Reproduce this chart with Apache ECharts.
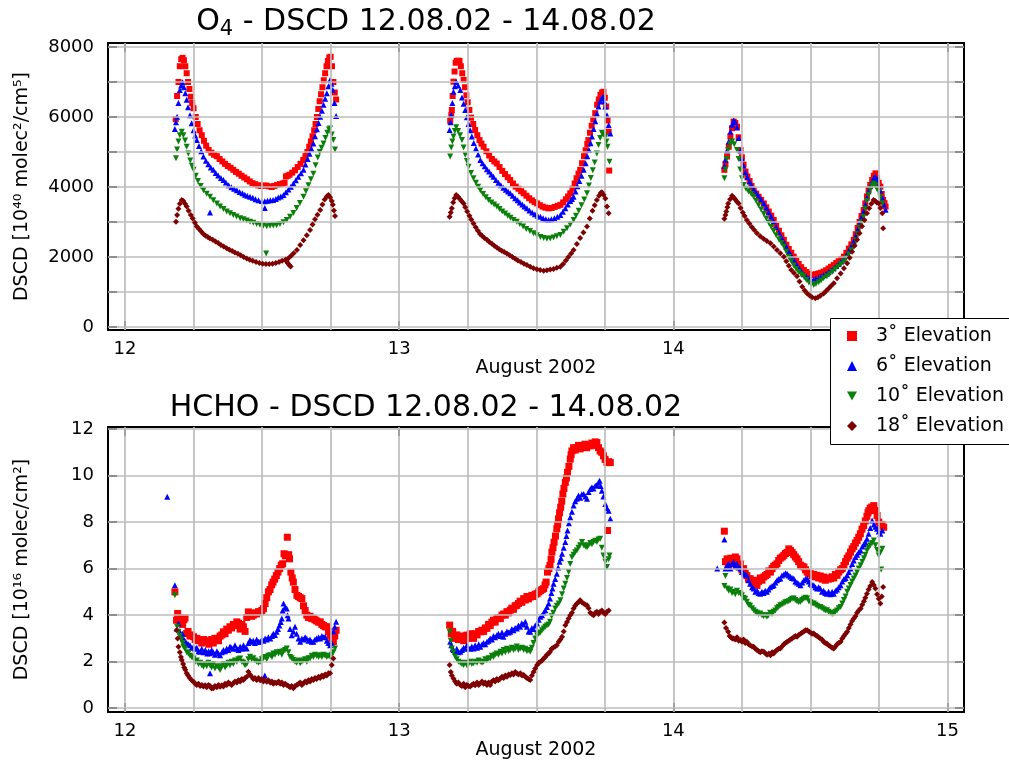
<!DOCTYPE html>
<html>
<head>
<meta charset="utf-8">
<script src="https://cdn.jsdelivr.net/npm/echarts@6.0.0/dist/echarts.min.js"></script>
<style>html,body{margin:0;padding:0;background:#fff;}#chart{width:1009px;height:761px;}</style>
</head>
<body>
<div id="chart"></div>
<script>
// ---------- DATA ----------
const seriesNames = ['3˚ Elevation', '6˚ Elevation', '10˚ Elevation', '18˚ Elevation'];
const dayTicks = [12, 13, 14, 15];
const dayGrid = [12, 12.25, 12.5, 12.75, 13, 13.25, 13.5, 13.75, 14, 14.25, 14.5, 14.75, 15];
const o4Ticks = [0, 1000, 2000, 3000, 4000, 5000, 6000, 7000, 8000];
const o4Labels = [0, 2000, 4000, 6000, 8000];
const hchoTicks = [0, 2, 4, 6, 8, 10, 12];
const titleTopParts = ['O', '4', ' - DSCD 12.08.02 - 14.08.02'];
const titleBottom = 'HCHO - DSCD 12.08.02 - 14.08.02';
const yNameTop = 'DSCD [10⁴⁰ molec²/cm⁵]';
const yNameBottom = 'DSCD [10¹⁶ molec/cm²]';
const xName = 'August 2002';

// O4 DSCD, 3 deg
const o4_3deg = [
[12.185,5940],[12.19,6600],[12.195,7000],[12.2,7450],[12.205,7650],[12.21,7690],[12.215,7620],[12.22,7450],[12.225,7250],[12.23,7000],[12.235,6800],[12.24,6580],[12.245,6400],[12.25,6250],[12.258,6000],[12.265,5800],[12.272,5620],[12.28,5480],[12.288,5320],[12.296,5180],[12.305,5060],[12.315,4980],[12.325,4920],[12.335,4880],[12.345,4800],[12.355,4730],[12.365,4660],[12.375,4600],[12.385,4550],[12.395,4490],[12.405,4430],[12.415,4380],[12.425,4320],[12.435,4270],[12.445,4220],[12.455,4160],[12.465,4110],[12.475,4080],[12.485,4050],[12.495,4030],[12.505,4040],[12.515,4040],[12.525,4020],[12.535,4000],[12.545,4030],[12.555,4060],[12.565,4080],[12.575,4100],[12.582,4120],[12.587,4300],[12.593,4320],[12.6,4350],[12.61,4410],[12.62,4480],[12.63,4570],[12.64,4660],[12.65,4770],[12.658,4880],[12.665,5000],[12.672,5150],[12.678,5300],[12.684,5450],[12.69,5620],[12.695,5800],[12.7,6000],[12.705,6230],[12.71,6450],[12.715,6650],[12.72,6850],[12.725,7050],[12.73,7250],[12.735,7450],[12.74,7600],[12.745,7700],[12.75,7720],[12.755,7450],[12.76,7000],[12.765,6700],[12.77,6500],
[13.186,5890],[13.19,6050],[13.192,6200],[13.195,6600],[13.198,7010],[13.202,7300],[13.206,7550],[13.21,7600],[13.215,7610],[13.22,7600],[13.225,7450],[13.23,7250],[13.235,7060],[13.24,6850],[13.245,6620],[13.25,6420],[13.256,6200],[13.262,5980],[13.27,5800],[13.277,5630],[13.285,5480],[13.293,5340],[13.3,5240],[13.308,5150],[13.318,5020],[13.328,4900],[13.338,4800],[13.347,4730],[13.356,4670],[13.366,4570],[13.376,4460],[13.386,4370],[13.396,4280],[13.405,4200],[13.415,4100],[13.425,4010],[13.435,3950],[13.445,3880],[13.454,3820],[13.464,3750],[13.474,3680],[13.484,3620],[13.494,3570],[13.503,3530],[13.513,3480],[13.523,3440],[13.533,3410],[13.545,3390],[13.556,3400],[13.567,3430],[13.578,3460],[13.588,3490],[13.598,3560],[13.608,3650],[13.616,3730],[13.624,3820],[13.632,3950],[13.64,4100],[13.647,4250],[13.654,4380],[13.66,4490],[13.667,4680],[13.674,4880],[13.68,5050],[13.686,5230],[13.69,5340],[13.696,5550],[13.702,5750],[13.708,5930],[13.715,6110],[13.722,6350],[13.728,6500],[13.734,6630],[13.74,6700],[13.745,6720],[13.75,6550],[13.755,6300],[13.76,5900],[13.764,5580],[13.766,4470],
[14.186,4490],[14.19,4650],[14.196,4870],[14.202,5150],[14.208,5440],[14.214,5680],[14.22,5870],[14.226,5830],[14.232,5720],[14.238,5420],[14.245,5060],[14.25,4850],[14.256,4640],[14.263,4440],[14.27,4300],[14.278,4170],[14.285,4030],[14.293,3910],[14.302,3810],[14.311,3720],[14.32,3630],[14.33,3530],[14.339,3420],[14.348,3300],[14.357,3180],[14.366,3060],[14.375,2900],[14.385,2750],[14.394,2620],[14.403,2490],[14.412,2350],[14.421,2230],[14.43,2120],[14.439,2010],[14.448,1900],[14.457,1800],[14.466,1710],[14.476,1630],[14.485,1570],[14.494,1520],[14.503,1490],[14.512,1490],[14.52,1510],[14.53,1530],[14.539,1550],[14.548,1580],[14.557,1620],[14.566,1670],[14.575,1720],[14.585,1770],[14.594,1830],[14.603,1880],[14.612,1940],[14.622,2010],[14.631,2120],[14.64,2240],[14.649,2360],[14.658,2490],[14.665,2650],[14.672,2830],[14.679,3000],[14.686,3170],[14.694,3340],[14.7,3530],[14.706,3730],[14.712,3920],[14.718,4060],[14.725,4200],[14.731,4320],[14.737,4390],[14.743,4250],[14.749,4120],[14.755,4010],[14.76,3800],[14.765,3630],[14.77,3540],[14.774,3440]
];
// O4 DSCD, 6 deg
const o4_6deg = [
[12.182,5660],[12.186,5850],[12.19,6010],[12.195,6400],[12.2,6770],[12.205,6900],[12.21,6990],[12.215,6850],[12.22,6680],[12.225,6490],[12.23,6280],[12.237,6050],[12.243,5820],[12.25,5620],[12.256,5470],[12.262,5340],[12.27,5170],[12.278,5020],[12.286,4870],[12.295,4750],[12.304,4650],[12.313,4560],[12.322,4490],[12.331,4400],[12.34,4330],[12.35,4260],[12.359,4200],[12.368,4130],[12.378,4050],[12.388,3990],[12.398,3950],[12.408,3910],[12.418,3860],[12.428,3820],[12.437,3780],[12.446,3750],[12.456,3720],[12.466,3690],[12.476,3650],[12.487,3620],[12.499,3600],[12.51,3590],[12.52,3610],[12.53,3620],[12.54,3630],[12.55,3660],[12.559,3700],[12.568,3730],[12.578,3770],[12.587,3850],[12.596,3930],[12.605,4010],[12.614,4100],[12.623,4190],[12.632,4290],[12.642,4390],[12.651,4490],[12.658,4640],[12.666,4800],[12.673,4950],[12.68,5090],[12.687,5240],[12.693,5450],[12.7,5650],[12.706,5830],[12.712,6010],[12.718,6180],[12.724,6350],[12.73,6520],[12.736,6680],[12.742,6880],[12.748,7060],[12.753,6950],[12.758,6770],[12.764,6400],[12.77,6030],[12.31,3270],[12.51,3400],
[13.184,5630],[13.187,5850],[13.19,6060],[13.194,6400],[13.198,6720],[13.203,6880],[13.208,7010],[13.215,6900],[13.223,6770],[13.229,6560],[13.235,6380],[13.241,6200],[13.247,5990],[13.253,5800],[13.259,5620],[13.265,5440],[13.272,5260],[13.28,5100],[13.288,4930],[13.296,4770],[13.304,4680],[13.312,4590],[13.32,4510],[13.328,4440],[13.336,4360],[13.344,4290],[13.353,4200],[13.362,4120],[13.371,4050],[13.38,3980],[13.389,3920],[13.397,3870],[13.405,3820],[13.414,3750],[13.423,3680],[13.432,3620],[13.44,3560],[13.449,3500],[13.457,3440],[13.466,3390],[13.475,3330],[13.485,3270],[13.495,3220],[13.505,3180],[13.515,3150],[13.525,3110],[13.535,3080],[13.545,3060],[13.555,3080],[13.566,3110],[13.577,3150],[13.588,3200],[13.597,3290],[13.606,3390],[13.615,3500],[13.624,3600],[13.63,3660],[13.636,3720],[13.643,3870],[13.65,4020],[13.657,4170],[13.665,4320],[13.673,4490],[13.68,4680],[13.686,4880],[13.692,5060],[13.698,5250],[13.703,5440],[13.709,5660],[13.715,5880],[13.721,6100],[13.727,6300],[13.733,6440],[13.738,6530],[13.743,6580],[13.748,6450],[13.752,6300],[13.758,6050],[13.764,5770],[13.77,5530],
[14.186,4600],[14.19,4780],[14.196,5050],[14.202,5300],[14.208,5580],[14.214,5780],[14.22,5900],[14.226,5850],[14.232,5700],[14.238,5400],[14.245,5040],[14.25,4820],[14.256,4610],[14.263,4420],[14.27,4280],[14.278,4160],[14.285,4040],[14.293,3930],[14.302,3830],[14.311,3740],[14.32,3640],[14.33,3530],[14.339,3410],[14.348,3280],[14.357,3150],[14.366,3020],[14.375,2860],[14.385,2710],[14.394,2570],[14.403,2430],[14.412,2290],[14.421,2160],[14.43,2040],[14.439,1920],[14.448,1810],[14.457,1700],[14.466,1600],[14.476,1510],[14.485,1440],[14.494,1390],[14.503,1360],[14.512,1360],[14.52,1380],[14.53,1410],[14.539,1440],[14.548,1480],[14.557,1520],[14.566,1570],[14.575,1620],[14.585,1680],[14.594,1740],[14.603,1800],[14.612,1870],[14.622,1950],[14.631,2060],[14.64,2180],[14.649,2310],[14.658,2440],[14.665,2600],[14.672,2780],[14.679,2960],[14.686,3130],[14.694,3300],[14.7,3490],[14.706,3690],[14.712,3880],[14.718,4020],[14.725,4150],[14.731,4260],[14.737,4300],[14.743,4200],[14.749,4050],[14.755,3900],[14.762,3700],[14.768,3500],[14.774,3350]
];
// O4 DSCD, 10 deg
const o4_10deg = [
[12.186,4820],[12.19,5070],[12.195,5300],[12.2,5480],[12.207,5580],[12.213,5480],[12.219,5330],[12.225,5150],[12.231,4960],[12.238,4760],[12.244,4610],[12.25,4490],[12.258,4320],[12.266,4170],[12.276,4030],[12.286,3910],[12.298,3810],[12.31,3720],[12.322,3620],[12.335,3530],[12.347,3440],[12.359,3370],[12.371,3300],[12.383,3250],[12.395,3200],[12.407,3160],[12.42,3110],[12.432,3080],[12.444,3040],[12.456,3010],[12.468,2980],[12.48,2940],[12.492,2920],[12.505,2900],[12.517,2880],[12.529,2890],[12.541,2900],[12.553,2910],[12.565,2940],[12.578,2990],[12.59,3060],[12.602,3150],[12.614,3260],[12.626,3400],[12.638,3540],[12.651,3720],[12.66,3880],[12.669,4050],[12.678,4220],[12.687,4380],[12.695,4620],[12.703,4840],[12.71,5000],[12.717,5120],[12.724,5240],[12.731,5400],[12.738,5550],[12.744,5640],[12.748,5670],[12.754,5500],[12.76,5340],[12.766,5070],[12.515,2100],
[13.186,4870],[13.19,5130],[13.194,5300],[13.198,5440],[13.203,5600],[13.208,5710],[13.215,5600],[13.222,5480],[13.229,5340],[13.235,5130],[13.241,4920],[13.247,4740],[13.253,4580],[13.262,4400],[13.271,4250],[13.28,4120],[13.288,4010],[13.296,3910],[13.306,3800],[13.316,3710],[13.326,3630],[13.336,3560],[13.346,3500],[13.356,3440],[13.366,3370],[13.376,3300],[13.386,3240],[13.396,3180],[13.406,3120],[13.417,3060],[13.429,3010],[13.44,2940],[13.452,2870],[13.464,2800],[13.477,2740],[13.49,2680],[13.502,2620],[13.515,2570],[13.527,2540],[13.539,2520],[13.551,2530],[13.563,2560],[13.575,2590],[13.588,2630],[13.6,2720],[13.612,2820],[13.624,2930],[13.636,3060],[13.645,3180],[13.655,3320],[13.665,3480],[13.675,3640],[13.685,3820],[13.692,4040],[13.699,4260],[13.706,4480],[13.713,4700],[13.721,4960],[13.727,5200],[13.733,5400],[13.739,5550],[13.745,5500],[13.752,5440],[13.756,5300],[13.76,5150],[13.767,4720],
[14.186,4250],[14.19,4500],[14.195,4800],[14.2,5060],[14.207,5220],[14.214,5300],[14.222,5220],[14.232,5060],[14.238,4800],[14.244,4500],[14.25,4250],[14.256,4060],[14.265,3950],[14.274,3870],[14.284,3800],[14.293,3720],[14.302,3600],[14.311,3480],[14.32,3360],[14.33,3230],[14.339,3100],[14.348,2980],[14.357,2860],[14.366,2740],[14.375,2620],[14.385,2500],[14.394,2400],[14.403,2300],[14.412,2150],[14.421,2000],[14.43,1880],[14.439,1760],[14.448,1660],[14.457,1570],[14.466,1500],[14.476,1450],[14.485,1350],[14.494,1270],[14.503,1220],[14.512,1200],[14.52,1230],[14.53,1280],[14.539,1330],[14.548,1390],[14.56,1450],[14.57,1510],[14.58,1580],[14.59,1650],[14.6,1720],[14.611,1790],[14.622,1870],[14.631,1970],[14.64,2080],[14.649,2190],[14.658,2300],[14.665,2480],[14.672,2660],[14.679,2840],[14.686,2990],[14.694,3150],[14.7,3380],[14.706,3600],[14.712,3780],[14.718,3930],[14.724,4030],[14.73,4100],[14.736,4050],[14.742,3950],[14.749,3870],[14.755,3700],[14.762,3530]
];
// O4 DSCD, 18 deg
const o4_18deg = [
[12.186,3010],[12.19,3200],[12.195,3380],[12.2,3520],[12.207,3630],[12.213,3600],[12.219,3520],[12.225,3440],[12.232,3320],[12.24,3200],[12.247,3100],[12.255,2980],[12.262,2870],[12.27,2800],[12.278,2730],[12.286,2660],[12.294,2610],[12.302,2570],[12.31,2530],[12.32,2490],[12.33,2440],[12.34,2400],[12.35,2340],[12.36,2300],[12.371,2250],[12.381,2210],[12.391,2170],[12.401,2130],[12.412,2090],[12.422,2050],[12.433,2000],[12.444,1960],[12.455,1920],[12.466,1890],[12.478,1860],[12.49,1830],[12.502,1810],[12.514,1800],[12.526,1800],[12.538,1810],[12.55,1830],[12.562,1860],[12.573,1890],[12.585,1920],[12.589,1880],[12.594,1820],[12.599,1770],[12.604,1730],[12.595,1960],[12.605,2030],[12.615,2110],[12.627,2200],[12.639,2340],[12.651,2480],[12.663,2620],[12.675,2770],[12.684,2930],[12.693,3080],[12.702,3210],[12.712,3340],[12.72,3500],[12.728,3640],[12.736,3730],[12.742,3770],[12.748,3710],[12.754,3600],[12.758,3490],[12.762,3330],[12.766,3170],
[13.184,3150],[13.188,3270],[13.192,3390],[13.197,3560],[13.202,3680],[13.208,3770],[13.215,3720],[13.222,3650],[13.228,3590],[13.235,3530],[13.241,3420],[13.248,3300],[13.256,3180],[13.263,3070],[13.271,2960],[13.279,2850],[13.287,2750],[13.295,2660],[13.303,2600],[13.311,2540],[13.32,2490],[13.329,2430],[13.338,2380],[13.347,2320],[13.356,2270],[13.365,2220],[13.374,2180],[13.383,2140],[13.393,2100],[13.403,2050],[13.413,2000],[13.423,1950],[13.433,1900],[13.444,1860],[13.455,1810],[13.466,1770],[13.478,1720],[13.49,1680],[13.502,1650],[13.514,1630],[13.527,1610],[13.539,1620],[13.551,1640],[13.563,1660],[13.575,1690],[13.588,1720],[13.598,1800],[13.608,1900],[13.617,2000],[13.627,2100],[13.636,2200],[13.648,2370],[13.66,2540],[13.672,2700],[13.685,2870],[13.695,3100],[13.705,3320],[13.713,3480],[13.721,3630],[13.729,3750],[13.735,3830],[13.739,3850],[13.745,3780],[13.752,3670],[13.758,3440],[13.764,3250],
[14.186,3090],[14.19,3200],[14.193,3300],[14.197,3420],[14.2,3530],[14.207,3650],[14.214,3750],[14.22,3700],[14.226,3640],[14.232,3580],[14.238,3530],[14.245,3400],[14.253,3270],[14.26,3170],[14.268,3060],[14.277,2960],[14.286,2860],[14.295,2770],[14.305,2680],[14.317,2590],[14.329,2520],[14.341,2460],[14.354,2390],[14.366,2300],[14.378,2200],[14.39,2110],[14.403,2010],[14.412,1880],[14.421,1750],[14.43,1630],[14.44,1540],[14.451,1450],[14.46,1300],[14.47,1150],[14.479,1040],[14.488,960],[14.497,900],[14.506,850],[14.518,820],[14.527,850],[14.536,890],[14.548,960],[14.557,1030],[14.566,1100],[14.575,1170],[14.585,1250],[14.597,1390],[14.61,1530],[14.622,1680],[14.634,1820],[14.643,1980],[14.652,2150],[14.661,2320],[14.67,2490],[14.679,2680],[14.688,2880],[14.697,3060],[14.706,3250],[14.714,3390],[14.722,3520],[14.73,3630],[14.736,3600],[14.742,3560],[14.749,3530],[14.755,3400],[14.762,3250],[14.765,2820]
];

// HCHO DSCD, 3 deg
const hcho_3deg = [
[12.182,5.0],[12.188,3.78],[12.192,4.07],[12.196,3.9],[12.2,3.7],[12.205,3.85],[12.21,3.6],[12.215,3.8],[12.219,3.88],[12.225,3.21],[12.23,3.3],[12.237,3.1],[12.243,3.15],[12.25,3.07],[12.256,2.95],[12.262,3.0],[12.268,2.9],[12.274,2.93],[12.28,2.8],[12.287,2.95],[12.293,2.85],[12.3,2.9],[12.306,2.75],[12.31,2.86],[12.316,2.95],[12.322,2.8],[12.328,3.0],[12.335,3.0],[12.341,2.9],[12.347,3.1],[12.353,3.15],[12.359,3.28],[12.365,3.2],[12.371,3.4],[12.377,3.35],[12.383,3.5],[12.389,3.45],[12.395,3.6],[12.401,3.55],[12.408,3.71],[12.414,3.65],[12.42,3.4],[12.426,3.6],[12.432,3.5],[12.438,3.3],[12.444,3.9],[12.45,4.14],[12.456,4.05],[12.462,3.95],[12.468,4.0],[12.474,4.1],[12.48,4.05],[12.487,4.15],[12.493,4.14],[12.499,4.2],[12.505,4.28],[12.511,4.5],[12.517,4.75],[12.523,5.0],[12.529,5.1],[12.535,5.3],[12.54,5.42],[12.546,5.55],[12.552,5.7],[12.558,5.85],[12.564,6.0],[12.57,6.15],[12.575,6.21],[12.58,6.64],[12.585,6.55],[12.592,7.35],[12.597,6.6],[12.6,6.42],[12.605,5.85],[12.61,5.6],[12.614,5.42],[12.62,5.1],[12.627,4.85],[12.633,4.8],[12.639,4.75],[12.645,4.71],[12.651,4.4],[12.657,4.2],[12.663,4.0],[12.669,3.9],[12.675,3.95],[12.681,3.85],[12.687,3.85],[12.693,3.8],[12.699,3.75],[12.706,3.7],[12.712,3.71],[12.718,3.6],[12.724,3.55],[12.73,3.5],[12.736,3.5],[12.742,3.3],[12.748,3.14],[12.754,3.0],[12.76,2.86],[12.765,3.1],[12.77,3.35],
[13.184,3.57],[13.19,3.2],[13.195,3.3],[13.2,3.1],[13.205,3.0],[13.21,3.15],[13.216,2.95],[13.223,3.0],[13.229,3.1],[13.235,2.9],[13.241,3.1],[13.247,3.14],[13.253,3.0],[13.259,3.2],[13.265,3.05],[13.271,3.0],[13.277,3.2],[13.284,3.15],[13.29,3.3],[13.296,3.28],[13.302,3.35],[13.308,3.3],[13.314,3.45],[13.32,3.43],[13.326,3.6],[13.332,3.55],[13.338,3.7],[13.344,3.78],[13.35,3.7],[13.356,3.85],[13.362,3.9],[13.369,3.85],[13.375,4.0],[13.381,4.05],[13.387,4.0],[13.393,4.15],[13.399,4.1],[13.405,4.21],[13.411,4.3],[13.417,4.25],[13.423,4.4],[13.429,4.42],[13.435,4.5],[13.441,4.6],[13.447,4.55],[13.454,4.71],[13.46,4.65],[13.466,4.8],[13.472,4.7],[13.478,4.78],[13.484,4.85],[13.49,4.8],[13.496,4.9],[13.503,4.92],[13.509,5.0],[13.515,5.05],[13.521,5.1],[13.527,5.14],[13.532,5.3],[13.536,5.42],[13.541,5.85],[13.546,6.0],[13.55,6.14],[13.554,6.4],[13.557,6.71],[13.561,6.9],[13.565,7.14],[13.57,7.4],[13.575,7.71],[13.578,7.9],[13.581,8.14],[13.585,8.4],[13.589,8.64],[13.593,8.9],[13.597,9.21],[13.601,9.45],[13.606,9.71],[13.61,9.9],[13.614,10.14],[13.619,10.4],[13.624,10.71],[13.627,10.9],[13.63,11.06],[13.636,11.2],[13.642,11.1],[13.648,11.21],[13.654,11.3],[13.66,11.15],[13.666,11.25],[13.672,11.21],[13.678,11.35],[13.684,11.2],[13.69,11.3],[13.697,11.28],[13.703,11.4],[13.709,11.3],[13.715,11.45],[13.721,11.42],[13.727,11.2],[13.733,11.06],[13.739,11.0],[13.745,10.85],[13.751,10.7],[13.758,10.56],[13.764,10.6],[13.77,10.56],[13.76,7.64],
[14.186,7.61],[14.19,6.3],[14.196,6.42],[14.2,6.1],[14.205,6.3],[14.21,6.45],[14.215,6.2],[14.22,6.4],[14.226,6.5],[14.232,6.42],[14.238,6.1],[14.244,6.2],[14.25,5.95],[14.256,6.0],[14.262,5.8],[14.268,5.7],[14.274,5.55],[14.28,5.57],[14.287,5.4],[14.293,5.35],[14.299,5.5],[14.305,5.28],[14.311,5.45],[14.317,5.6],[14.323,5.5],[14.33,5.64],[14.336,5.7],[14.342,5.75],[14.348,5.9],[14.354,5.85],[14.36,6.0],[14.366,6.1],[14.372,6.15],[14.378,6.21],[14.384,6.35],[14.39,6.45],[14.397,6.5],[14.403,6.57],[14.409,6.65],[14.415,6.7],[14.421,6.85],[14.427,6.78],[14.433,6.7],[14.439,6.6],[14.445,6.5],[14.451,6.42],[14.457,6.3],[14.464,6.15],[14.47,6.1],[14.476,6.07],[14.482,5.95],[14.488,5.85],[14.494,5.8],[14.5,5.78],[14.506,5.7],[14.512,5.75],[14.518,5.65],[14.524,5.71],[14.53,5.6],[14.536,5.68],[14.542,5.55],[14.548,5.64],[14.554,5.5],[14.56,5.6],[14.566,5.55],[14.573,5.57],[14.579,5.65],[14.585,5.6],[14.591,5.75],[14.597,5.71],[14.603,5.85],[14.61,5.95],[14.616,6.0],[14.622,6.14],[14.628,6.3],[14.634,6.45],[14.64,6.55],[14.646,6.71],[14.652,6.85],[14.658,6.95],[14.664,7.1],[14.67,7.21],[14.676,7.35],[14.682,7.5],[14.688,7.7],[14.694,7.85],[14.7,8.05],[14.706,8.25],[14.71,8.4],[14.713,8.49],[14.718,8.6],[14.724,8.65],[14.731,8.71],[14.737,8.5],[14.743,8.28],[14.749,8.0],[14.755,7.85],[14.761,7.9],[14.767,7.78]
];
// HCHO DSCD, 6 deg
const hcho_6deg = [
[12.154,9.09],[12.182,5.28],[12.19,3.4],[12.195,3.64],[12.2,3.3],[12.205,3.1],[12.21,3.2],[12.213,3.0],[12.218,2.9],[12.225,2.8],[12.231,2.75],[12.237,2.71],[12.243,2.6],[12.25,2.65],[12.256,2.55],[12.262,2.6],[12.268,2.45],[12.274,2.43],[12.28,2.55],[12.287,2.4],[12.293,2.5],[12.3,2.35],[12.305,2.45],[12.31,2.36],[12.316,2.5],[12.322,2.4],[12.328,2.3],[12.335,2.45],[12.341,2.35],[12.347,2.28],[12.353,2.4],[12.359,2.5],[12.365,2.45],[12.371,2.57],[12.377,2.5],[12.383,2.65],[12.389,2.6],[12.395,2.55],[12.401,2.7],[12.408,2.57],[12.414,2.5],[12.42,2.65],[12.426,2.55],[12.432,2.7],[12.438,2.6],[12.444,2.57],[12.45,2.8],[12.456,2.93],[12.462,2.85],[12.468,2.9],[12.474,2.8],[12.48,2.95],[12.487,2.85],[12.493,2.86],[12.499,2.95],[12.505,2.9],[12.511,3.0],[12.517,2.95],[12.523,3.05],[12.53,3.0],[12.536,3.1],[12.541,3.2],[12.547,3.15],[12.553,3.28],[12.558,3.4],[12.563,3.55],[12.568,3.7],[12.572,3.85],[12.575,4.2],[12.578,4.5],[12.584,4.35],[12.59,4.28],[12.593,4.0],[12.596,3.85],[12.602,3.4],[12.608,3.14],[12.614,3.3],[12.62,3.5],[12.626,3.2],[12.633,3.0],[12.639,2.86],[12.645,3.0],[12.651,2.95],[12.657,3.05],[12.663,3.0],[12.669,2.9],[12.675,2.95],[12.681,2.85],[12.687,2.86],[12.693,2.95],[12.699,3.0],[12.706,3.05],[12.712,3.0],[12.718,3.1],[12.724,3.05],[12.73,3.07],[12.736,2.9],[12.742,2.8],[12.748,2.71],[12.754,2.8],[12.76,3.3],[12.765,3.5],[12.77,3.71],[12.31,1.5],[12.51,1.4],
[13.186,2.86],[13.19,2.7],[13.195,2.55],[13.198,2.5],[13.204,2.45],[13.21,2.55],[13.216,2.4],[13.223,2.43],[13.229,2.5],[13.235,2.6],[13.241,2.55],[13.247,2.71],[13.253,2.6],[13.259,2.55],[13.265,2.65],[13.271,2.57],[13.277,2.7],[13.284,2.6],[13.29,2.75],[13.296,2.64],[13.302,2.75],[13.308,2.8],[13.314,2.75],[13.32,2.86],[13.326,2.9],[13.332,3.0],[13.338,2.95],[13.344,3.1],[13.35,3.05],[13.356,3.14],[13.362,3.2],[13.369,3.1],[13.375,3.25],[13.38,3.07],[13.387,3.2],[13.393,3.3],[13.399,3.25],[13.405,3.28],[13.411,3.4],[13.417,3.35],[13.423,3.45],[13.429,3.43],[13.435,3.55],[13.441,3.5],[13.447,3.65],[13.454,3.6],[13.46,3.71],[13.466,3.5],[13.472,3.3],[13.478,3.28],[13.484,3.45],[13.49,3.4],[13.496,3.55],[13.503,3.64],[13.509,3.8],[13.515,3.93],[13.521,4.0],[13.527,4.1],[13.533,4.21],[13.539,4.35],[13.545,4.5],[13.55,4.71],[13.555,4.95],[13.559,5.15],[13.563,5.35],[13.569,5.55],[13.575,5.78],[13.58,6.05],[13.585,6.3],[13.59,6.45],[13.594,6.64],[13.6,6.9],[13.606,7.14],[13.61,7.4],[13.614,7.64],[13.619,7.95],[13.624,8.21],[13.63,8.45],[13.636,8.71],[13.642,8.9],[13.648,9.0],[13.654,9.14],[13.66,9.05],[13.666,9.2],[13.673,9.21],[13.679,9.1],[13.685,9.0],[13.691,9.3],[13.697,9.42],[13.703,9.5],[13.709,9.45],[13.715,9.56],[13.721,9.6],[13.727,9.7],[13.731,9.78],[13.735,9.55],[13.739,9.35],[13.745,9.1],[13.752,8.78],[13.758,8.6],[13.764,8.49],[13.77,8.14],
[14.16,6.0],[14.186,7.25],[14.19,6.0],[14.196,6.14],[14.202,6.2],[14.208,6.0],[14.214,6.2],[14.22,6.28],[14.226,6.1],[14.232,6.2],[14.238,6.05],[14.245,6.0],[14.25,5.85],[14.256,5.8],[14.262,5.75],[14.268,5.71],[14.274,5.5],[14.28,5.35],[14.287,5.2],[14.293,5.14],[14.299,5.0],[14.305,5.05],[14.311,4.95],[14.317,4.92],[14.323,5.0],[14.329,4.95],[14.335,5.05],[14.341,5.0],[14.347,5.1],[14.353,5.2],[14.36,5.25],[14.366,5.28],[14.372,5.4],[14.378,5.5],[14.384,5.55],[14.39,5.57],[14.396,5.7],[14.403,5.75],[14.409,5.8],[14.415,5.78],[14.421,5.7],[14.427,5.65],[14.433,5.6],[14.439,5.57],[14.445,5.45],[14.451,5.4],[14.457,5.35],[14.464,5.28],[14.47,5.4],[14.476,5.5],[14.482,5.55],[14.488,5.57],[14.494,5.45],[14.5,5.35],[14.506,5.3],[14.512,5.28],[14.518,5.2],[14.524,5.15],[14.53,5.2],[14.536,5.14],[14.542,5.0],[14.548,5.05],[14.554,4.95],[14.56,4.92],[14.566,5.0],[14.573,4.9],[14.579,5.0],[14.585,4.92],[14.591,5.05],[14.597,5.1],[14.603,5.2],[14.61,5.28],[14.616,5.45],[14.622,5.55],[14.628,5.6],[14.634,5.71],[14.64,5.85],[14.646,6.0],[14.652,6.2],[14.658,6.35],[14.664,6.5],[14.67,6.6],[14.676,6.7],[14.683,6.78],[14.689,6.95],[14.695,7.05],[14.7,7.15],[14.706,7.28],[14.712,7.5],[14.718,7.75],[14.725,8.07],[14.731,7.9],[14.737,7.8],[14.743,7.71],[14.749,7.6],[14.755,7.5],[14.762,7.64]
];
// HCHO DSCD, 10 deg
const hcho_10deg = [
[12.182,4.85],[12.19,3.5],[12.195,3.28],[12.2,3.1],[12.205,2.95],[12.21,2.8],[12.213,2.64],[12.219,2.55],[12.225,2.4],[12.231,2.35],[12.237,2.25],[12.243,2.2],[12.25,2.14],[12.256,2.0],[12.262,2.05],[12.268,1.9],[12.274,1.95],[12.28,1.85],[12.286,1.78],[12.292,1.9],[12.298,1.8],[12.304,1.95],[12.31,1.85],[12.316,1.75],[12.322,1.9],[12.328,1.7],[12.335,1.8],[12.341,1.75],[12.347,1.64],[12.353,1.8],[12.359,1.9],[12.365,1.75],[12.371,1.85],[12.377,1.95],[12.383,1.85],[12.389,2.0],[12.395,1.9],[12.401,2.05],[12.408,2.0],[12.414,2.1],[12.42,2.14],[12.426,2.0],[12.432,1.95],[12.438,1.85],[12.444,1.9],[12.45,2.1],[12.456,2.21],[12.462,2.1],[12.468,2.15],[12.474,2.05],[12.48,2.0],[12.487,1.95],[12.493,2.0],[12.499,2.1],[12.505,2.15],[12.511,2.2],[12.517,2.1],[12.523,2.25],[12.53,2.28],[12.536,2.2],[12.541,2.35],[12.547,2.3],[12.553,2.4],[12.56,2.35],[12.566,2.43],[12.572,2.3],[12.578,2.45],[12.584,2.5],[12.59,2.57],[12.596,2.4],[12.602,2.2],[12.608,2.15],[12.614,2.07],[12.62,2.0],[12.626,1.95],[12.633,2.05],[12.639,1.93],[12.645,2.0],[12.651,2.05],[12.657,2.1],[12.663,2.0],[12.669,2.15],[12.675,2.14],[12.681,2.25],[12.687,2.2],[12.693,2.3],[12.699,2.25],[12.706,2.2],[12.712,2.28],[12.718,2.2],[12.724,2.3],[12.73,2.25],[12.736,2.2],[12.742,2.25],[12.748,2.21],[12.754,2.3],[12.76,2.4],[12.766,2.57],
[13.184,3.28],[13.188,2.9],[13.192,2.57],[13.198,2.4],[13.204,2.21],[13.21,2.1],[13.216,2.0],[13.223,1.95],[13.229,1.9],[13.235,1.86],[13.241,1.95],[13.247,1.85],[13.253,1.9],[13.259,2.0],[13.265,1.9],[13.271,1.93],[13.277,2.0],[13.284,1.95],[13.29,2.05],[13.296,2.0],[13.302,1.95],[13.308,2.0],[13.314,2.1],[13.32,2.05],[13.326,2.15],[13.332,2.14],[13.338,2.25],[13.344,2.2],[13.35,2.3],[13.356,2.35],[13.362,2.3],[13.369,2.43],[13.375,2.35],[13.381,2.5],[13.387,2.4],[13.393,2.55],[13.399,2.45],[13.405,2.5],[13.411,2.6],[13.417,2.5],[13.423,2.55],[13.429,2.65],[13.435,2.5],[13.442,2.57],[13.448,2.6],[13.454,2.5],[13.46,2.55],[13.466,2.45],[13.472,2.5],[13.478,2.43],[13.484,2.6],[13.49,2.8],[13.496,3.0],[13.503,3.14],[13.509,3.2],[13.515,3.25],[13.521,3.35],[13.527,3.43],[13.533,3.5],[13.539,3.55],[13.545,3.6],[13.55,3.71],[13.556,3.95],[13.562,4.1],[13.569,4.28],[13.575,4.4],[13.582,4.5],[13.588,4.64],[13.594,4.9],[13.6,5.14],[13.606,5.35],[13.612,5.6],[13.618,5.85],[13.624,6.2],[13.63,6.49],[13.636,6.6],[13.642,6.7],[13.648,6.78],[13.654,6.9],[13.66,7.0],[13.667,7.14],[13.673,7.0],[13.679,6.95],[13.685,6.92],[13.691,7.0],[13.697,7.1],[13.703,7.05],[13.709,7.14],[13.715,7.2],[13.721,7.15],[13.727,7.25],[13.733,7.28],[13.739,6.9],[13.745,6.56],[13.752,6.3],[13.758,6.07],[13.764,6.4],[13.767,6.56],
[14.186,5.25],[14.19,5.68],[14.196,5.14],[14.202,5.05],[14.208,5.1],[14.214,4.95],[14.22,5.0],[14.226,4.9],[14.232,5.05],[14.238,4.95],[14.245,4.92],[14.25,4.85],[14.256,4.75],[14.262,4.7],[14.268,4.57],[14.274,4.45],[14.28,4.4],[14.287,4.3],[14.293,4.21],[14.299,4.15],[14.305,4.1],[14.311,4.05],[14.317,4.07],[14.323,4.0],[14.329,3.95],[14.335,4.0],[14.341,3.93],[14.347,4.0],[14.353,4.1],[14.36,4.05],[14.366,4.14],[14.372,4.2],[14.378,4.3],[14.384,4.35],[14.39,4.42],[14.396,4.45],[14.403,4.5],[14.409,4.55],[14.415,4.57],[14.421,4.6],[14.427,4.65],[14.433,4.7],[14.439,4.71],[14.445,4.65],[14.451,4.6],[14.457,4.55],[14.464,4.57],[14.47,4.65],[14.476,4.7],[14.482,4.75],[14.488,4.71],[14.494,4.6],[14.5,4.55],[14.506,4.5],[14.512,4.5],[14.518,4.45],[14.524,4.4],[14.53,4.35],[14.536,4.35],[14.542,4.3],[14.548,4.25],[14.554,4.2],[14.56,4.21],[14.566,4.15],[14.573,4.1],[14.579,4.05],[14.585,4.07],[14.591,4.15],[14.597,4.2],[14.603,4.3],[14.61,4.35],[14.616,4.5],[14.622,4.65],[14.628,4.8],[14.634,5.0],[14.64,5.15],[14.646,5.3],[14.652,5.45],[14.658,5.57],[14.664,5.7],[14.67,5.85],[14.676,6.0],[14.683,6.14],[14.689,6.3],[14.695,6.45],[14.7,6.6],[14.706,6.78],[14.712,6.9],[14.718,7.0],[14.725,7.1],[14.731,7.21],[14.737,7.0],[14.743,6.8],[14.749,6.56],[14.755,6.7],[14.758,5.96],[14.762,6.85]
];
// HCHO DSCD, 18 deg
const hcho_18deg = [
[12.188,3.35],[12.192,3.0],[12.195,2.64],[12.2,2.4],[12.204,2.2],[12.207,2.07],[12.212,1.9],[12.216,1.75],[12.22,1.65],[12.225,1.5],[12.23,1.4],[12.236,1.3],[12.243,1.2],[12.25,1.14],[12.256,1.05],[12.262,1.0],[12.268,1.05],[12.274,0.95],[12.28,1.0],[12.286,0.93],[12.292,0.98],[12.298,0.9],[12.304,1.0],[12.31,0.95],[12.316,0.85],[12.322,0.86],[12.328,0.95],[12.335,0.9],[12.341,1.0],[12.347,0.92],[12.353,0.98],[12.359,0.93],[12.365,1.05],[12.371,1.0],[12.377,1.1],[12.383,1.05],[12.389,1.0],[12.395,1.07],[12.401,1.15],[12.408,1.1],[12.414,1.2],[12.42,1.15],[12.426,1.25],[12.432,1.21],[12.438,1.3],[12.444,1.35],[12.45,1.57],[12.456,1.45],[12.462,1.35],[12.468,1.25],[12.474,1.3],[12.48,1.21],[12.487,1.3],[12.493,1.2],[12.499,1.25],[12.505,1.15],[12.511,1.2],[12.517,1.14],[12.523,1.2],[12.53,1.1],[12.536,1.15],[12.541,1.05],[12.547,1.1],[12.553,1.07],[12.56,1.15],[12.566,1.05],[12.572,1.1],[12.578,1.0],[12.584,1.05],[12.59,1.0],[12.596,0.95],[12.602,0.9],[12.608,0.95],[12.614,0.86],[12.62,0.95],[12.627,1.0],[12.633,1.05],[12.639,1.1],[12.645,1.0],[12.651,1.07],[12.657,1.15],[12.663,1.1],[12.669,1.2],[12.675,1.15],[12.681,1.25],[12.687,1.21],[12.693,1.3],[12.699,1.25],[12.706,1.35],[12.712,1.3],[12.718,1.4],[12.724,1.35],[12.73,1.45],[12.736,1.4],[12.742,1.5],[12.748,1.5],[12.754,1.86],[12.76,2.14],
[13.184,1.86],[13.188,1.55],[13.192,1.4],[13.198,1.28],[13.204,1.15],[13.21,1.05],[13.216,1.1],[13.223,1.0],[13.229,0.95],[13.235,1.05],[13.241,0.9],[13.247,1.0],[13.253,0.95],[13.259,0.93],[13.265,1.0],[13.271,1.05],[13.277,0.98],[13.284,1.1],[13.29,1.0],[13.296,1.07],[13.302,1.15],[13.308,1.05],[13.314,1.1],[13.32,1.0],[13.326,1.1],[13.332,1.0],[13.338,1.15],[13.344,1.2],[13.35,1.15],[13.356,1.25],[13.362,1.2],[13.369,1.28],[13.375,1.35],[13.381,1.3],[13.387,1.4],[13.393,1.35],[13.399,1.45],[13.405,1.43],[13.411,1.5],[13.417,1.45],[13.423,1.55],[13.429,1.5],[13.435,1.45],[13.442,1.5],[13.448,1.4],[13.454,1.43],[13.46,1.35],[13.466,1.3],[13.472,1.25],[13.478,1.21],[13.484,1.4],[13.49,1.55],[13.496,1.7],[13.503,1.86],[13.509,1.95],[13.515,2.0],[13.521,2.05],[13.527,2.14],[13.533,2.2],[13.539,2.3],[13.545,2.35],[13.55,2.43],[13.556,2.55],[13.562,2.6],[13.569,2.65],[13.575,2.71],[13.582,2.85],[13.588,2.95],[13.594,3.07],[13.6,3.3],[13.606,3.57],[13.612,3.7],[13.618,3.85],[13.624,4.0],[13.63,4.1],[13.636,4.28],[13.642,4.4],[13.648,4.5],[13.654,4.55],[13.66,4.64],[13.666,4.55],[13.673,4.5],[13.679,4.45],[13.685,4.42],[13.691,4.3],[13.697,4.1],[13.703,4.05],[13.709,4.0],[13.715,4.1],[13.721,4.15],[13.727,4.05],[13.733,4.14],[13.739,4.2],[13.745,4.1],[13.752,4.05],[13.758,4.14],[13.764,4.2],
[14.186,3.68],[14.192,3.45],[14.2,3.28],[14.205,3.1],[14.21,3.05],[14.215,3.0],[14.22,3.0],[14.226,2.95],[14.232,3.05],[14.238,2.9],[14.245,2.93],[14.25,2.85],[14.256,2.95],[14.262,2.8],[14.268,2.86],[14.274,2.75],[14.28,2.7],[14.287,2.65],[14.293,2.64],[14.299,2.55],[14.305,2.5],[14.311,2.45],[14.317,2.4],[14.323,2.45],[14.33,2.43],[14.336,2.35],[14.342,2.3],[14.348,2.35],[14.354,2.28],[14.36,2.4],[14.366,2.35],[14.372,2.45],[14.378,2.5],[14.384,2.55],[14.39,2.57],[14.396,2.65],[14.403,2.75],[14.409,2.8],[14.415,2.86],[14.421,2.9],[14.427,2.95],[14.433,3.0],[14.439,3.05],[14.445,3.1],[14.451,3.07],[14.457,3.15],[14.464,3.2],[14.47,3.25],[14.476,3.3],[14.482,3.35],[14.488,3.35],[14.494,3.3],[14.5,3.25],[14.506,3.2],[14.512,3.21],[14.518,3.15],[14.524,3.1],[14.53,3.05],[14.536,3.0],[14.542,2.95],[14.548,2.85],[14.554,2.8],[14.56,2.78],[14.566,2.7],[14.573,2.65],[14.579,2.6],[14.585,2.57],[14.591,2.65],[14.597,2.75],[14.603,2.8],[14.61,2.86],[14.616,3.0],[14.622,3.1],[14.628,3.2],[14.634,3.28],[14.64,3.45],[14.646,3.6],[14.652,3.75],[14.658,3.85],[14.664,3.95],[14.67,4.1],[14.676,4.2],[14.683,4.28],[14.689,4.45],[14.695,4.6],[14.7,4.75],[14.706,4.92],[14.712,5.1],[14.718,5.25],[14.725,5.42],[14.731,5.3],[14.737,5.14],[14.743,4.9],[14.749,4.7],[14.755,4.5],[14.76,4.8],[14.765,5.21]
];

// ---------- CHART ----------
const FONT = 'DejaVu Sans';
const X_MIN = 11.938, X_MAX = 15.06;
const O4_MIN = -86, O4_MAX = 8114;
const H_MIN = -0.17, H_MAX = 12.09;
const GRID_COLOR = '#bdbdbd';

const chart = echarts.init(document.getElementById('chart'), null, {renderer: 'canvas'});

function xAxisDef(gi, pos) {
  const main = pos === 'bottom';
  return {
    type: 'value', gridIndex: gi, position: pos, min: X_MIN, max: X_MAX,
    axisLine: {show: true, onZero: false, lineStyle: {color: '#000', width: 2}},
    axisTick: {show: true, inside: true, length: 9, customValues: dayTicks, lineStyle: {color: '#000', width: 2}},
    axisLabel: main ? {show: true, customValues: dayTicks, formatter: v => String(v), fontFamily: FONT, fontSize: 18, color: '#000', margin: 10} : {show: false},
    splitLine: {show: false},
    name: main ? xName : '', nameLocation: 'middle', nameGap: 26,
    nameTextStyle: {fontFamily: FONT, fontSize: 19, color: '#000'}
  };
}
function yAxisDef(gi, pos, mn, mx, ticks, labels, name) {
  const main = pos === 'left';
  return {
    type: 'value', gridIndex: gi, position: pos, min: mn, max: mx,
    axisLine: {show: true, onZero: false, lineStyle: {color: '#000', width: 2}},
    axisTick: {show: true, inside: true, length: 9, customValues: ticks, lineStyle: {color: '#000', width: 2}},
    axisLabel: main ? {show: true, customValues: labels, formatter: v => String(v), fontFamily: FONT, fontSize: 18, color: '#000', margin: 14} : {show: false},
    splitLine: {show: false},
    name: main ? name : '', nameLocation: 'middle', nameGap: 76, nameRotate: 90,
    nameTextStyle: {fontFamily: FONT, fontSize: 19, color: '#000'}
  };
}

const styles = [
  {color: '#ff0000', symbol: 'rect', size: [6, 7]},
  {color: '#0000ff', symbol: 'triangle', size: [6, 6]},
  {color: '#0a800a', symbol: 'path://M0,0L10,0L5,9Z', size: [6, 6]},
  {color: '#7f0000', symbol: 'diamond', size: [6, 6]}
];
const topData = [o4_3deg, o4_6deg, o4_10deg, o4_18deg];
const botData = [hcho_3deg, hcho_6deg, hcho_10deg, hcho_18deg];

function gridSeries(xi, yi, yGrid) {
  return {
    type: 'scatter', xAxisIndex: xi, yAxisIndex: yi, data: [], z: 1, silent: true,
    markLine: {
      silent: true, animation: false, symbol: ['none', 'none'], label: {show: false},
      emphasis: {disabled: true},
      lineStyle: {color: GRID_COLOR, width: 1.7, type: 'solid'},
      data: dayGrid.map(v => ({xAxis: v})).concat(yGrid.map(v => ({yAxis: v})))
    }
  };
}

const series = [gridSeries(0, 0, o4Ticks), gridSeries(2, 2, hchoTicks)];
[0, 1].forEach(p => {
  styles.forEach((s, i) => {
    series.push({
      name: seriesNames[i], type: 'scatter',
      xAxisIndex: p === 0 ? 0 : 2, yAxisIndex: p === 0 ? 0 : 2,
      data: (p === 0 ? topData : botData)[i],
      symbol: s.symbol, symbolSize: s.size[p],
      itemStyle: {color: s.color, opacity: 1},
      z: 2 + i, animation: false
    });
  });
});

const option = {
  backgroundColor: '#fff',
  animation: false,
  grid: [
    {left: 108, right: 45, top: 43, height: 287},
    {left: 108, right: 45, top: 427, height: 287}
  ],
  xAxis: [xAxisDef(0, 'bottom'), xAxisDef(0, 'top'), xAxisDef(1, 'bottom'), xAxisDef(1, 'top')],
  yAxis: [
    yAxisDef(0, 'left', O4_MIN, O4_MAX, o4Ticks, o4Labels, yNameTop),
    yAxisDef(0, 'right', O4_MIN, O4_MAX, o4Ticks, o4Labels, ''),
    yAxisDef(1, 'left', H_MIN, H_MAX, hchoTicks, hchoTicks, yNameBottom),
    yAxisDef(1, 'right', H_MIN, H_MAX, hchoTicks, hchoTicks, '')
  ],
  legend: {
    data: seriesNames, orient: 'vertical', left: 830, top: 318,
    backgroundColor: 'transparent', borderWidth: 0,
    padding: [8, 10, 8, 17], itemWidth: 10, itemHeight: 10, itemGap: 10,
    selectedMode: false, z: 12,
    textStyle: {fontFamily: FONT, fontSize: 19, color: '#000', lineHeight: 20, padding: [0, 0, 0, 14]}
  },
  graphic: [
    {type: 'rect', z: 11, silent: true, shape: {x: 830.5, y: 318.5, width: 240, height: 126},
      style: {fill: '#fff', stroke: '#000', lineWidth: 1}},
    {type: 'text', x: 426, y: 22, z: 10, style: {
      text: '{a|' + titleTopParts[0] + '}{s|' + titleTopParts[1] + '}{a|' + titleTopParts[2] + '}',
      rich: {
        a: {fontFamily: FONT, fontSize: 30, lineHeight: 36, fill: '#000', verticalAlign: 'middle'},
        s: {fontFamily: FONT, fontSize: 21, lineHeight: 21, fill: '#000', verticalAlign: 'bottom'}
      },
      align: 'center', verticalAlign: 'middle', textAlign: 'center', textVerticalAlign: 'middle'}},
    {type: 'text', x: 426, y: 408, z: 10, style: {text: titleBottom, fontFamily: FONT, fontSize: 30, fill: '#000', align: 'center', verticalAlign: 'middle', textAlign: 'center', textVerticalAlign: 'middle'}}
  ],
  series: series
};
chart.setOption(option);
</script>
</body>
</html>
